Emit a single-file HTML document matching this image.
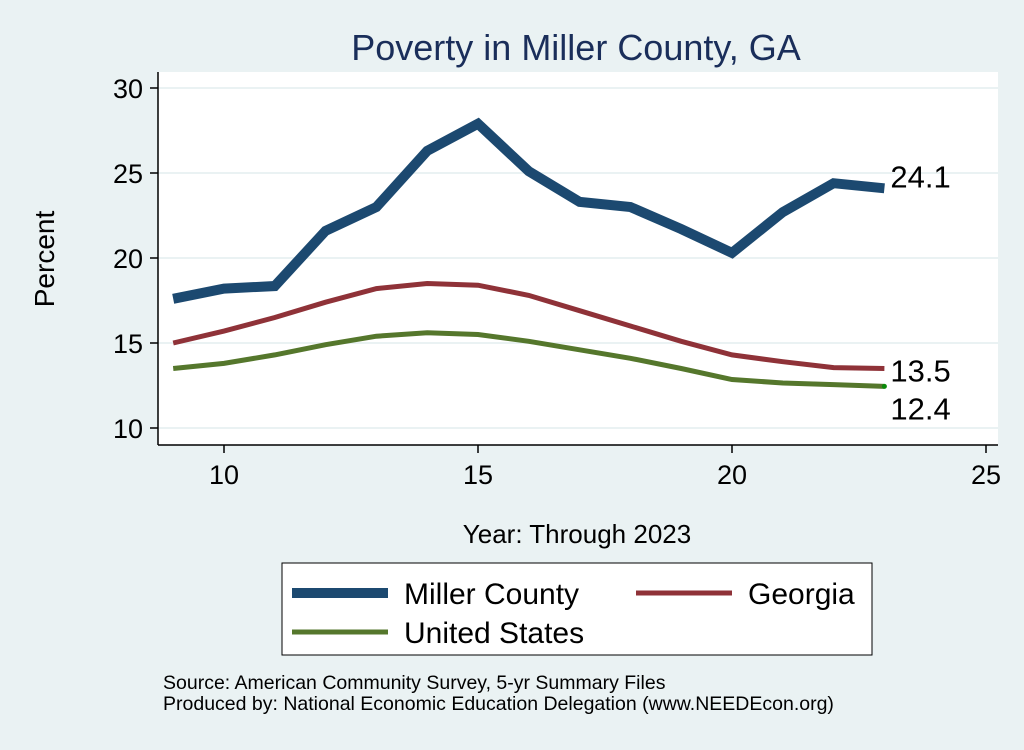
<!DOCTYPE html>
<html><head><meta charset="utf-8"><style>
body{margin:0;background:#eaf2f3;font-family:"Liberation Sans",sans-serif}
</style></head><body>
<svg id="chart" width="1024" height="745" xmlns="http://www.w3.org/2000/svg">
<rect width="1024" height="745" fill="#eaf2f3"/>
<text x="576" y="60" font-size="36" fill="#1a2e5a" text-anchor="middle">Poverty in Miller County, GA</text>
<rect x="158" y="72" width="840" height="373" fill="#fff"/>
<g id="grid"></g>
<line x1="158" y1="72" x2="158" y2="445" stroke="#000" stroke-width="1.5"/>
<line x1="158" y1="445" x2="998" y2="445" stroke="#000" stroke-width="1.5"/>
<g id="ticks"></g>
<g id="series"></g>
<text x="54" y="259" font-size="28" text-anchor="middle" transform="rotate(-90 54 259)">Percent</text>
<text x="577" y="543" font-size="26" text-anchor="middle">Year: Through 2023</text>
<g>
<rect x="282" y="563" width="590" height="92" fill="#fff" stroke="#000" stroke-width="1"/>
<line x1="292" y1="593" x2="388" y2="593" stroke="#1c4970" stroke-width="10"/>
<text x="404" y="604" font-size="30">Miller County</text>
<line x1="636" y1="593" x2="732" y2="593" stroke="#8f3238" stroke-width="5"/>
<text x="748" y="604" font-size="30">Georgia</text>
<line x1="292" y1="632" x2="388" y2="632" stroke="#55772c" stroke-width="5"/>
<text x="404" y="643" font-size="30">United States</text>
</g>
<text x="163" y="689" font-size="19.5">Source: American Community Survey, 5-yr Summary Files</text>
<text x="163" y="710" font-size="19.5">Produced by: National Economic Education Delegation (www.NEEDEcon.org)</text>
</svg>
<script>
const years=[9,10,11,12,13,14,15,16,17,18,19,20,21,22,23];
const miller=[17.6,18.2,18.35,21.6,23.0,26.3,27.9,25.1,23.3,23.0,21.7,20.3,22.7,24.4,24.1];
const georgia=[15.0,15.7,16.5,17.4,18.2,18.5,18.4,17.8,16.9,16.0,15.1,14.3,13.9,13.55,13.5];
const us=[13.5,13.8,14.3,14.9,15.4,15.6,15.5,15.1,14.6,14.1,13.5,12.85,12.65,12.55,12.45];
const yTicks=[10,15,20,25,30];
const xTicks=[10,15,20,25];
const NS="http://www.w3.org/2000/svg";
const xs=v=>224+(v-10)*50.8;
const ys=v=>428-(v-10)*17;
const grid=document.getElementById('grid'),ticks=document.getElementById('ticks'),ser=document.getElementById('series');
function mk(t,a,p){const e=document.createElementNS(NS,t);for(const k in a)e.setAttribute(k,a[k]);p.appendChild(e);return e;}
yTicks.forEach(v=>{
 const g=mk('line',{x1:158,x2:998,y1:ys(v),y2:ys(v),stroke:'#eaf2f3','stroke-width':2},grid);
 
 
 const t=mk('line',{x1:150,x2:158,y1:ys(v),y2:ys(v),stroke:'#000','stroke-width':1.5},ticks);
 
 
 const l=mk('text',{x:143,y:ys(v)+10,'font-size':27,'text-anchor':'end'},ticks);l.textContent=v;
 
 
});
xTicks.forEach(v=>{
 const t=mk('line',{x1:xs(v),x2:xs(v),y1:445,y2:453,stroke:'#000','stroke-width':1.5},ticks);
 
 
 const l=mk('text',{x:xs(v),y:484,'font-size':27,'text-anchor':'middle'},ticks);l.textContent=v;
 
 
});
function line(vals,color,w,name){
 const p=mk('polyline',{points:years.map((y,i)=>xs(y)+','+ys(vals[i])).join(' '),fill:'none',stroke:color,'stroke-width':w,'stroke-linejoin':'miter'},ser);
 
 
}
line(us,'#55772c',5,'us-line');
line(georgia,'#8f3238',5,'georgia-line');
line(miller,'#1c4970',10,'miller-line');
const last=years.length-1;
const dot=mk('circle',{cx:xs(years[last]),cy:ys(us[last]),r:2.5,fill:'#0a8a0a'},ser);


[[miller,-1,'miller-end-label'],[georgia,13,'georgia-end-label'],[us,33,'us-end-label']].forEach(([arr,dy,n])=>{
 const t=mk('text',{x:xs(years[last])+6,y:ys(arr[last])+dy,'font-size':31},ser);
 t.textContent=arr[last].toFixed(1);
 
 
});
</script>
</body></html>
